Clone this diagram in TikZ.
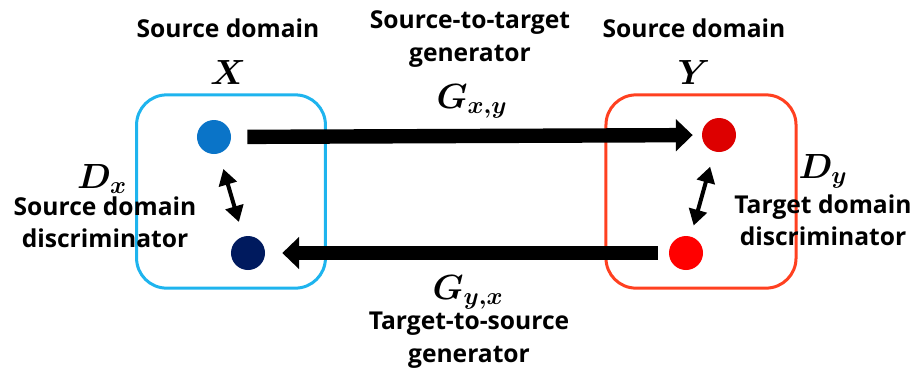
\documentclass[tikz,border=0pt]{standalone}
\usepackage{amsmath}
\usepackage{bm}
\usepackage{fontspec}
\setmainfont{Open Sans}
\usetikzlibrary{arrows.meta}
\usetikzlibrary{positioning}
\definecolor{srcline}{HTML}{1EB4EE}
\definecolor{tgtline}{HTML}{FF4020}
\definecolor{xreal}{HTML}{0A74C8}
\definecolor{xfake}{HTML}{001A5E}
\definecolor{yreal}{HTML}{DD0000}
\definecolor{yfake}{HTML}{FF0000}
\tikzset{every picture/.style={x=0.025cm,y=-0.025cm}}

\begin{document}
\begin{tikzpicture}[every node/.style={font=\bfseries\fontsize{17.5}{22}\selectfont,align=center},
domainbox/.style={line width=0.075cm,rounded corners=0.75cm,minimum width=4.72cm,minimum height=4.83cm},
dot/.style={circle,inner sep=0pt,minimum size=0.85cm},
bigmath/.style={font=\fontsize{31}{34}\selectfont},
smallmath/.style={font=\fontsize{23}{26}\selectfont},
gen/.style={line width=0.36cm,-{Triangle[length=0.42cm,width=0.78cm]}},
disc/.style={line width=0.1cm,{Triangle[length=0.4cm,width=0.45cm]}-{Triangle[length=0.4cm,width=0.45cm]}}]
\useasboundingbox (0,0) rectangle (916,370);

\node (bx) at (231,191.5) [domainbox,draw=srcline] {};
\node (by) at (701,191.5) [domainbox,draw=tgtline,minimum width=4.75cm] {};

\node (x1) at (214,137) [dot,fill=xreal] {};
\node (x2) at (248,253) [dot,fill=xfake] {};
\node (y1) at (719,135) [dot,fill=yreal] {};
\node (y2) at (686,253) [dot,fill=yfake] {};

\draw[gen,shorten <=0.4cm,shorten >=0.225cm] (x1) -- (y1);
\draw[gen,shorten <=0.275cm,shorten >=0.425cm] (y2) -- (x2);
\draw[disc,shorten <=0.4cm,shorten >=0.375cm] (x1) -- (x2);
\draw[disc,shorten <=0.39cm,shorten >=0.28cm] (y1) -- (y2);

% domain labels
\node (srcx) at (228,28) {Source domain};
\node (X) at (228,72) [bigmath] {$\bm{X}$};
\node (srcy) at (694,28) {Source domain};
\node (Y) at (694,72) [bigmath] {$\bm{Y}$};

% generators
\node (gxyt) at (470,39) {Source-to-target\\[2pt]generator};
\node (gxy) at (472,101) [smallmath] {$\bm{G_{x,y}}$};
\node (gyx) at (468,292) [smallmath] {$\bm{G_{y,x}}$};
\node (gyxt) at (469,340) {Target-to-source\\[1pt]generator};

% discriminators
\node (dx) at (102,179) [smallmath] {$\bm{D_x}$};
\node (dxt) at (105,222) {Source domain\\[1pt]discriminator};
\node (dy) at (823,171) [smallmath] {$\bm{D_y}$};
\node (dyt) at (823,220) {Target domain\\[1pt]discriminator};
\end{tikzpicture}
\end{document}
